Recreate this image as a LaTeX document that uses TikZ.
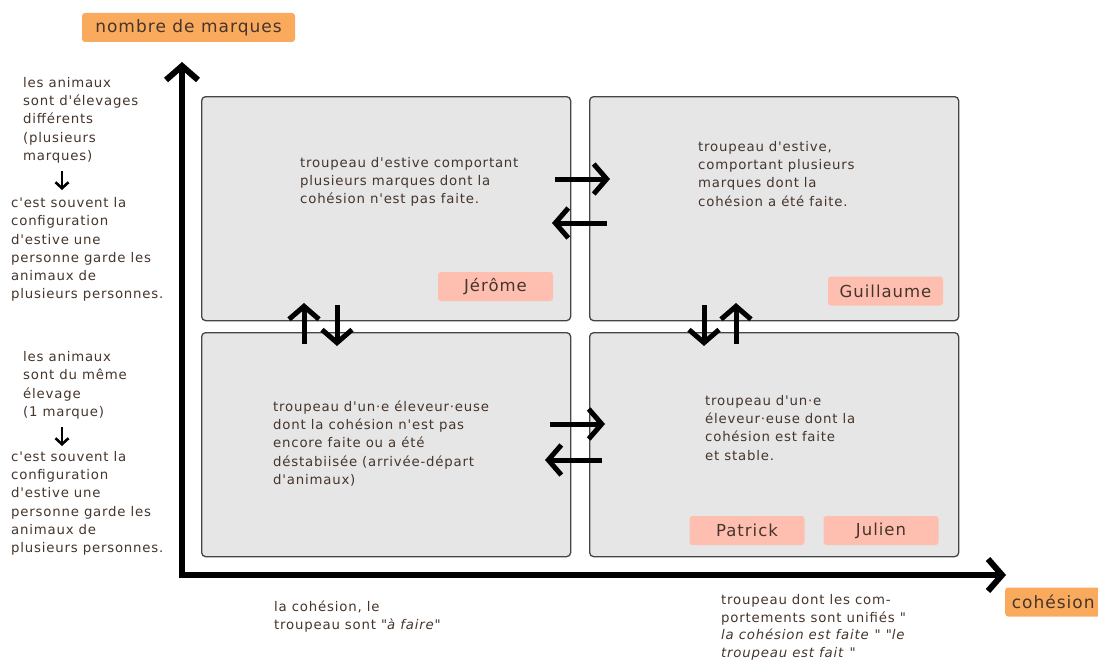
\documentclass[tikz,border=0pt]{standalone}
\usepackage{fontspec}
\setmainfont{DejaVu Sans}[Ligatures=TeXOff,LetterSpace=6]
\usetikzlibrary{arrows.meta,calc}
\definecolor{txt}{HTML}{45352C}
\definecolor{orangelab}{HTML}{FAAA5C}
\definecolor{pinktag}{HTML}{FFBFB0}
\definecolor{boxfill}{HTML}{E6E6E6}
\definecolor{boxline}{HTML}{454545}
\newcommand{\fl}{\rule{0pt}{13pt}}
\begin{document}
\begin{tikzpicture}[x=1pt,y=-1pt,
  quad/.style={draw=boxline, fill=boxfill, line width=1.3pt, rounded corners=4pt, inner sep=0pt, anchor=north west, minimum width=369pt, minimum height=224pt},
  tagbox/.style={fill=pinktag, rounded corners=3pt, inner sep=0pt, minimum width=115pt, minimum height=29pt, text=txt, font=\fontsize{16.5}{18}\selectfont},
  axlab/.style={fill=orangelab, rounded corners=3pt, inner sep=0pt, minimum height=29pt, text=txt, font=\fontsize{17}{18}\selectfont},
  body/.style={anchor=north west, inner sep=0pt, align=left, text=txt, font=\fontsize{13.3}{18.2}\selectfont},
  bigarrow/.style={line width=5pt, -{Straight Barb[length=13pt,width=30pt,line width=5pt]}},
  axisarrow/.style={line width=6pt, -{Straight Barb[length=14pt,width=32pt,line width=6pt]}},
  smallarrow/.style={line width=2.6pt, -{Straight Barb[length=6pt,width=13pt,line width=2.6pt]}}
]
\useasboundingbox (0,0) rectangle (1098,661);

% axis labels
\node[axlab, minimum width=213pt] (ylab) at (188.5,27.5) {nombre de marques};
\node[axlab, minimum width=96pt, anchor=west] (xlab) at (1005,602) {cohésion};

% quadrants
\node[quad] (tl) at (201,96) {};
\node[quad] (tr) at (589,96) {};
\node[quad] (bl) at (201,332) {};
\node[quad] (br) at (589,332) {};

% axes
\coordinate (origin) at (182,575);
\coordinate (ytop) at (182,62);
\coordinate (xend) at (1006,575);
\draw[axisarrow] (182,578) -- (ytop);
\draw[axisarrow] (179,575) -- (xend);

% quadrant texts
\node[body] (tltxt) at (300,153.8) {\fl troupeau d'estive comportant\\plusieurs marques dont la\\cohésion n'est pas faite.};
\node[body] (trtxt) at (698,138.2) {\fl troupeau d'estive,\\comportant plusieurs\\marques dont la\\cohésion a été faite.};
\node[body] (bltxt) at (273,398.2) {\fl troupeau d'un·e éleveur·euse\\dont la cohésion n'est pas\\encore faite ou a été\\déstabiisée (arrivée-départ\\d'animaux)};
\node[body] (brtxt) at (705,392.2) {\fl troupeau d'un·e\\éleveur·euse dont la\\cohésion est faite\\et stable.};

% tags
\node[tagbox] (jerome) at (495.5,286.5) {Jérôme};
\node[tagbox] (guillaume) at (885.5,291) {Guillaume};
\node[tagbox] (patrick) at (747,530.5) {Patrick};
\node[tagbox] (julien) at (881,530.5) {Julien};

% arrows between quadrants
\coordinate (a1s) at (555,179);   \coordinate (a1e) at (610,179);
\coordinate (a2s) at (607,223);   \coordinate (a2e) at (552,223);
\coordinate (a3s) at (550,424);   \coordinate (a3e) at (605,424);
\coordinate (a4s) at (602,460);   \coordinate (a4e) at (545,460);
\draw[bigarrow] (a1s) -- (a1e);
\draw[bigarrow] (a2s) -- (a2e);
\draw[bigarrow] (a3s) -- (a3e);
\draw[bigarrow] (a4s) -- (a4e);
\coordinate (v1s) at (304,344);   \coordinate (v1e) at (304,303);
\coordinate (v2s) at (337,305);   \coordinate (v2e) at (337,346);
\coordinate (v3s) at (704,305);   \coordinate (v3e) at (704,346);
\coordinate (v4s) at (736,344);   \coordinate (v4e) at (736,303);
\draw[bigarrow] (v1s) -- (v1e);
\draw[bigarrow] (v2s) -- (v2e);
\draw[bigarrow] (v3s) -- (v3e);
\draw[bigarrow] (v4s) -- (v4e);

% left texts
\node[body] (l1a) at (23,74.2) {\fl les animaux\\sont d'élevages\\différents\\(plusieurs\\marques)};
\node[body] (l1b) at (11,194.5) {\fl c'est souvent la\\configuration\\d'estive une\\personne garde les\\animaux de\\plusieurs personnes.};
\node[body] (l2a) at (23,348.5) {\fl les animaux\\sont du même\\élevage\\(1 marque)};
\node[body] (l2b) at (11,448.2) {\fl c'est souvent la\\configuration\\d'estive une\\personne garde les\\animaux de\\plusieurs personnes.};
\coordinate (s1s) at (62,171); \coordinate (s1e) at (62,190);
\coordinate (s2s) at (62,427); \coordinate (s2e) at (62,446);
\draw[smallarrow] (s1s) -- (s1e);
\draw[smallarrow] (s2s) -- (s2e);

% bottom texts
\node[body] (b1) at (274,598.2) {\fl la cohésion, le\\troupeau sont "\textit{à faire}"};
\node[body, font=\fontsize{13.3}{17.6}\selectfont] (b2) at (721,591.5) {\fl troupeau dont les com-\\portements sont unifiés "\\\textit{la cohésion est faite} " "\textit{le}\\\textit{troupeau est fait} "};
\end{tikzpicture}
\end{document}
